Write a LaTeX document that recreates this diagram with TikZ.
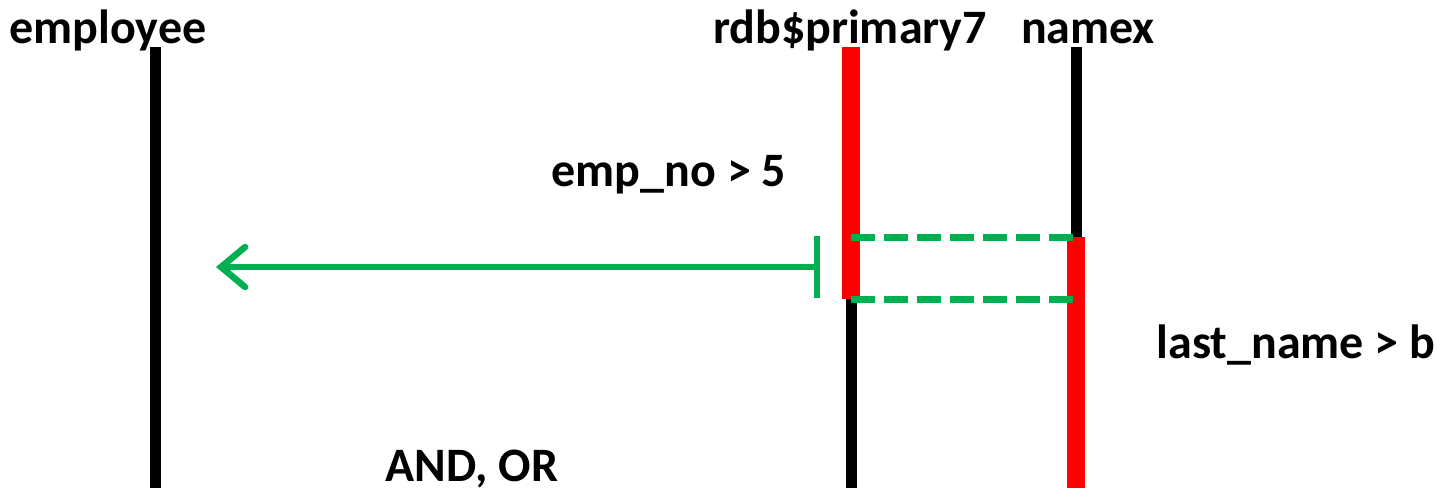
\documentclass[tikz,border=0pt]{standalone}
\usepackage{fontspec}
\setmainfont{Carlito}
\usetikzlibrary{arrows.meta}
\begin{document}
\begin{tikzpicture}[x=1pt,y=-1pt,
  lbl/.style={font=\fontsize{48}{54}\selectfont\bfseries, inner sep=0pt, anchor=base},
  life/.style={line width=11pt, black},
  act/.style={line width=18pt, red},
  msg/.style={line width=6.5pt, color={rgb,255:red,0;green,176;blue,80}},
  ret/.style={line width=7pt, dash pattern=on 24pt off 9pt, color={rgb,255:red,0;green,176;blue,80}}]
\useasboundingbox (0,0) rectangle (1437,491);
% lifeline coordinates
\coordinate (eTop) at (155,47);
\coordinate (eBot) at (155,488);
\coordinate (rTop) at (851,47);
\coordinate (rMid) at (851,299);
\coordinate (rBot) at (851,488);
\coordinate (nTop) at (1076,47);
\coordinate (nMid) at (1076,237);
\coordinate (nBot) at (1076,488);
% labels
\node[lbl] (le) at (108,43) {employee};
\node[lbl] (lr) at (850,43) {rdb\$primary7};
\node[lbl] (ln) at (1088,43) {namex};
\node[lbl] (c1) at (669,186) {emp\_no > 5};
\node[lbl] (c2) at (1296,358) {last\_name > b};
\node[lbl] (c3) at (472,481) {AND, OR};
% lifelines
\draw[life] (eTop) -- (eBot);
\draw[life] (rMid) -- (rBot);
\draw[act] (rTop) -- (rMid);
\draw[life] (nTop) -- (nMid);
\draw[act] (nMid) -- (nBot);
% dashed return lines
\coordinate (d1a) at (851,237);
\coordinate (d2a) at (851,299);
\coordinate (d1b) at (1076,237);
\coordinate (d2b) at (1076,299);
\draw[ret] (d1a) -- (d1b);
\draw[ret] (d2a) -- (d2b);
% arrow
\coordinate (aS) at (820,267);
\coordinate (aE) at (216,267);
\draw[msg, {Bar[width=62pt,line width=6.5pt]}-{Straight Barb[length=24pt,width=40pt,line width=6.5pt,line cap=round]}] (aS) -- (aE);
\end{tikzpicture}
\end{document}
